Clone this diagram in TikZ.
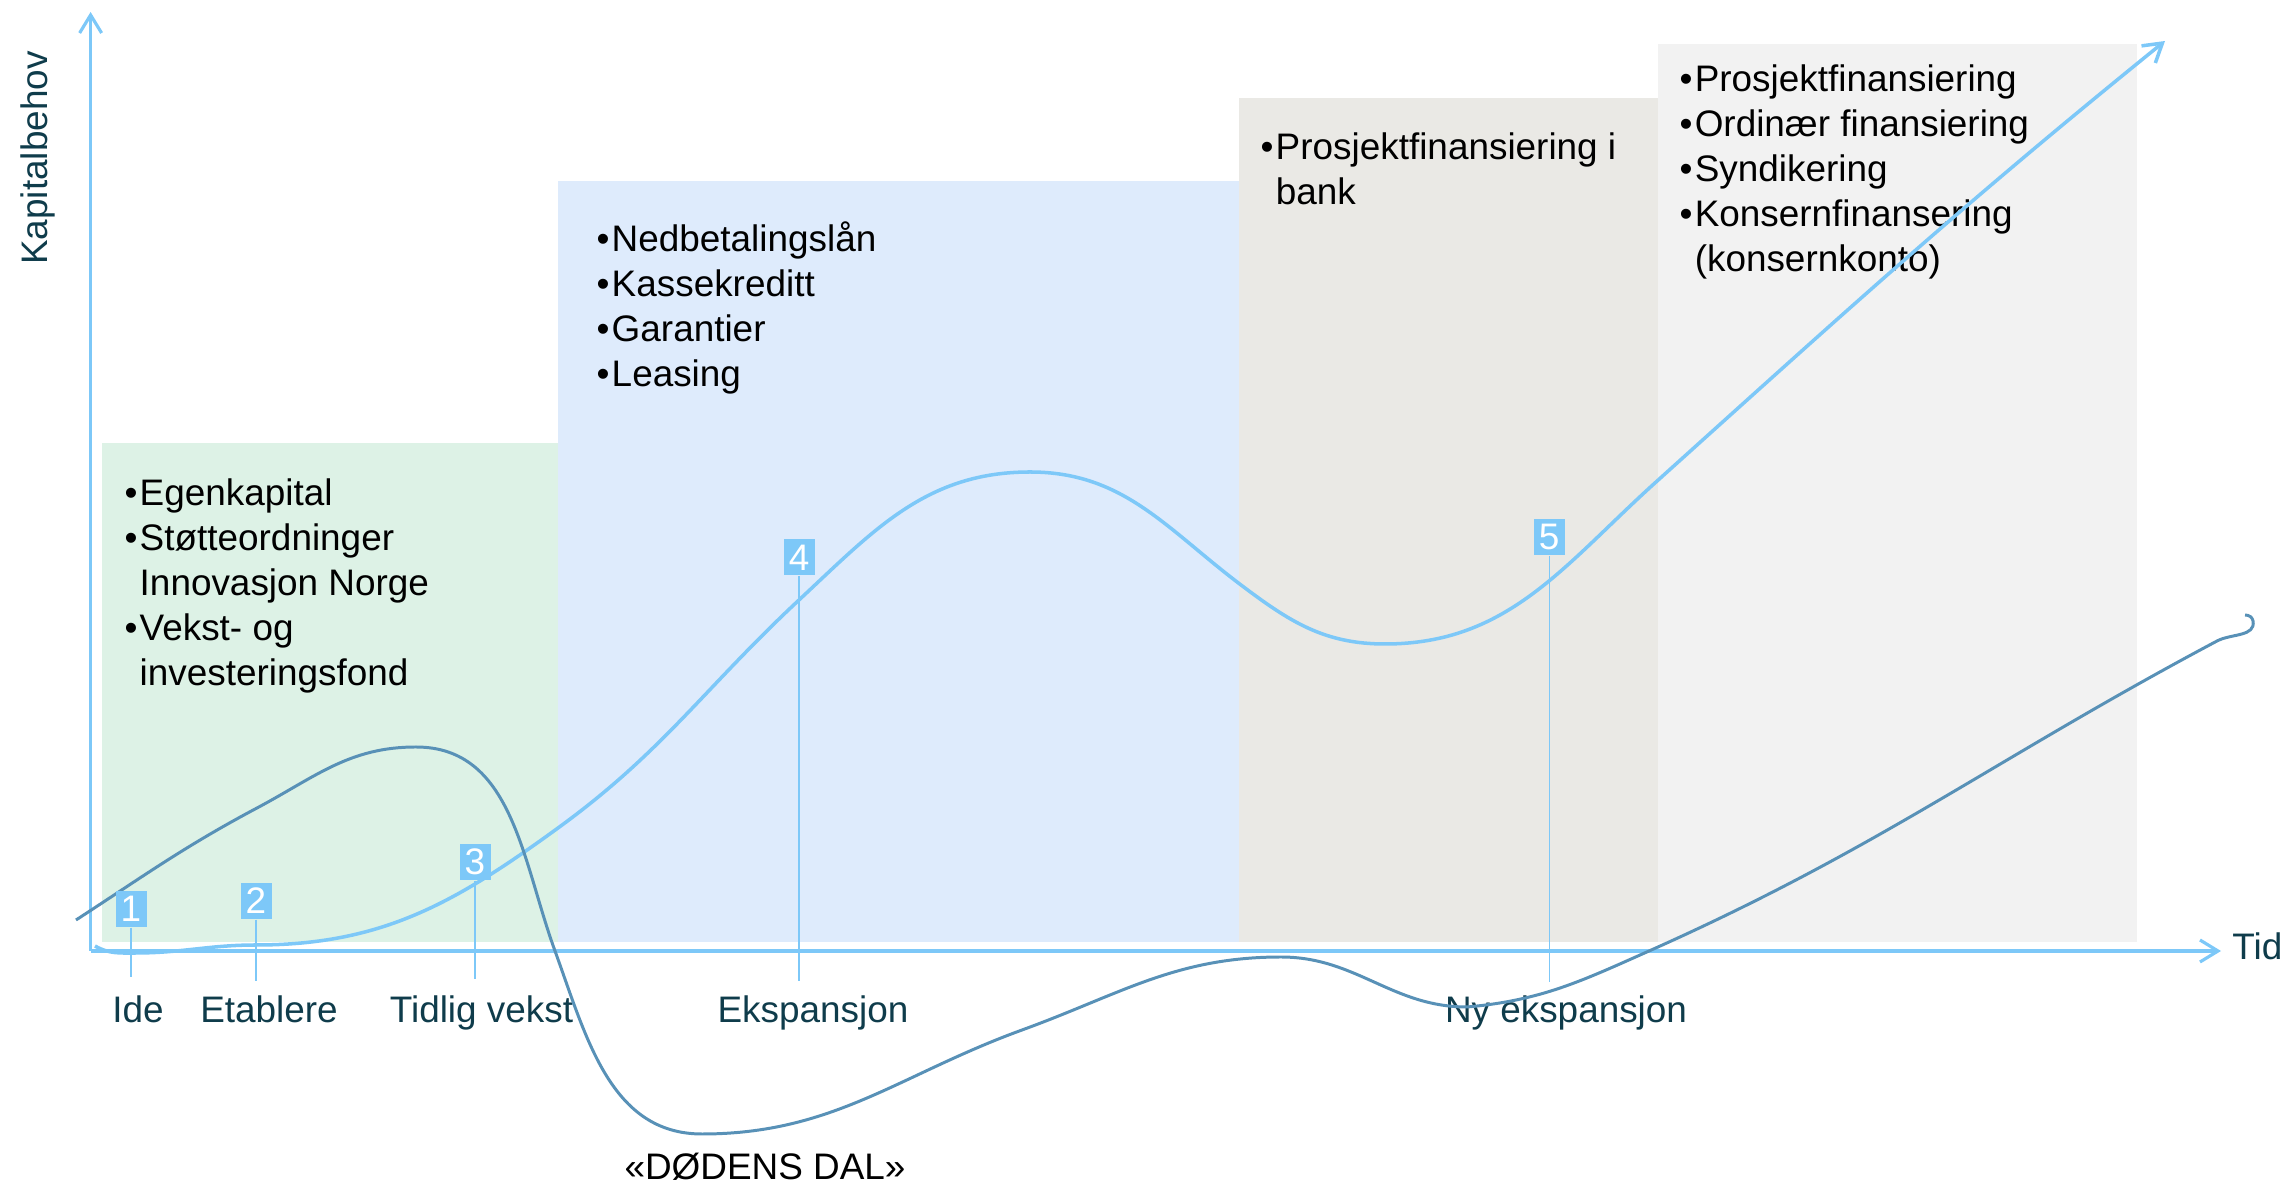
\documentclass[tikz,border=0pt]{standalone}
\usepackage{fontspec}
\setmainfont{Liberation Sans}
\usetikzlibrary{arrows.meta}

\definecolor{akse}{RGB}{125,200,248}
\definecolor{morkkurve}{RGB}{88,145,183}
\definecolor{tekstbla}{RGB}{15,60,75}
\definecolor{fasegronn}{RGB}{221,242,230}
\definecolor{fasebla}{RGB}{222,235,252}
\definecolor{fasebeige}{RGB}{234,233,229}
\definecolor{fasegra}{RGB}{242,242,242}

\begin{document}
\begin{tikzpicture}[
    every node/.style={font=\fontsize{10.5}{12.8}\selectfont},
    pil/.style={-{Straight Barb[length=1.8mm,width=2.2mm]}},
    nr/.style={fill=akse, text=white, inner sep=0pt, minimum width=0.31cm, minimum height=0.36cm},
    fase/.style={tekstbla, anchor=base},
    liste/.style={anchor=base west, inner sep=0pt},
    drop/.style={akse, line width=0.3pt}
]
    \useasboundingbox (0,0) rectangle (22.90,11.84);

    \fill[fasegronn] (1.02,2.42) rectangle (5.58,7.41);
    \fill[fasebla] (5.58,2.42) rectangle (12.39,10.03);
    \fill[fasebeige] (12.39,2.42) rectangle (16.58,10.86);
    \fill[fasegra] (16.58,2.42) rectangle (21.37,11.40);

    \node[liste] (egen) at (1.24,6.78) {\begin{tabular}[t]{@{}l@{\hspace{0.6pt}}l@{}}
        \textbullet & Egenkapital\\
        \textbullet & Støtteordninger\\
        & Innovasjon Norge\\
        \textbullet & Vekst- og\\
        & investeringsfond
    \end{tabular}};
    \node[liste] (bank) at (5.96,9.32) {\begin{tabular}[t]{@{}l@{\hspace{0.6pt}}l@{}}
        \textbullet & Nedbetalingslån\\
        \textbullet & Kassekreditt\\
        \textbullet & Garantier\\
        \textbullet & Leasing
    \end{tabular}};
    \node[liste] (prosjekt) at (12.60,10.24) {\begin{tabular}[t]{@{}l@{\hspace{0.6pt}}l@{}}
        \textbullet & Prosjektfinansiering i\\
        & bank
    \end{tabular}};
    \node[liste] (konsern) at (16.79,10.92) {\begin{tabular}[t]{@{}l@{\hspace{0.6pt}}l@{}}
        \textbullet & Prosjektfinansiering\\
        \textbullet & Ordinær finansiering\\
        \textbullet & Syndikering\\
        \textbullet & Konsernfinansering\\
        & (konsernkonto)
    \end{tabular}};

    \coordinate (O) at (0.906,2.33);
    \coordinate (ytopp) at (0.906,11.72);
    \coordinate (xende) at (22.21,2.33);
    \draw[akse, line width=0.9pt, pil] (O) -- (ytopp);
    \draw[akse, line width=0.9pt, pil] (O) -- (xende);

    \node[tekstbla, rotate=90, anchor=base] (kapital) at (0.47,10.26) {Kapitalbehov};
    \node[tekstbla, anchor=base west] (tid) at (22.20,2.24) {Tid};

    \node[fase] (ide) at (1.38,1.61) {Ide};
    \node[fase] (etablere) at (2.69,1.61) {Etablere};
    \node[fase] (tidlig) at (4.815,1.61) {Tidlig vekst};
    \node[fase] (ekspansjon) at (8.13,1.61) {Ekspansjon};
    \node[fase] (nyeksp) at (15.66,1.61) {Ny ekspansjon};
    \node[anchor=base] (dal) at (7.65,0.05) {«DØDENS DAL»};

    \draw[akse, line width=1pt, pil] (0.95,2.38) to[out=-30,in=180] (1.35,2.31)
        to[out=0,in=180] (2.56,2.39) to[out=0,in=216] (5.58,3.56)
        to[out=36,in=223] (7.99,5.84) to[out=43,in=180] (10.30,7.12)
        to[out=0,in=143] (12.41,5.99) to[out=-37,in=180] (13.85,5.40)
        to[out=0,in=222] (16.56,7.02) to[out=42,in=219] (21.65,11.43);
    \draw[morkkurve, line width=0.85pt] (0.76,2.64) to[out=33,in=208] (2.57,3.76)
        to[out=28,in=180] (4.16,4.37) to[out=0,in=110] (5.55,2.33)
        to[out=-70,in=180] (7.02,0.50) to[out=0,in=200] (10.22,1.54)
        to[out=20,in=180] (12.81,2.27) to[out=0,in=180] (14.67,1.77)
        to[out=5,in=204] (16.49,2.33) to[out=24,in=208] (22.17,5.43)
        to[out=28,in=-80] (22.53,5.63) to[out=100,in=0] (22.45,5.69);

    \coordinate (b1) at (1.31,2.07);
    \coordinate (b2) at (2.56,2.03);
    \coordinate (b3) at (4.75,2.05);
    \coordinate (b4) at (7.99,2.03);
    \coordinate (b5) at (15.49,2.02);
    \node[nr] (n1) at (1.31,2.75) {1};
    \node[nr] (n2) at (2.56,2.83) {2};
    \node[nr] (n3) at (4.75,3.22) {3};
    \node[nr] (n4) at (7.99,6.265) {4};
    \node[nr] (n5) at (15.49,6.47) {5};
    \draw[drop] (n1) -- (b1);
    \draw[drop] (n2) -- (b2);
    \draw[drop] (n3) -- (b3);
    \draw[drop] (n4) -- (b4);
    \draw[drop] (n5) -- (b5);
\end{tikzpicture}
\end{document}
